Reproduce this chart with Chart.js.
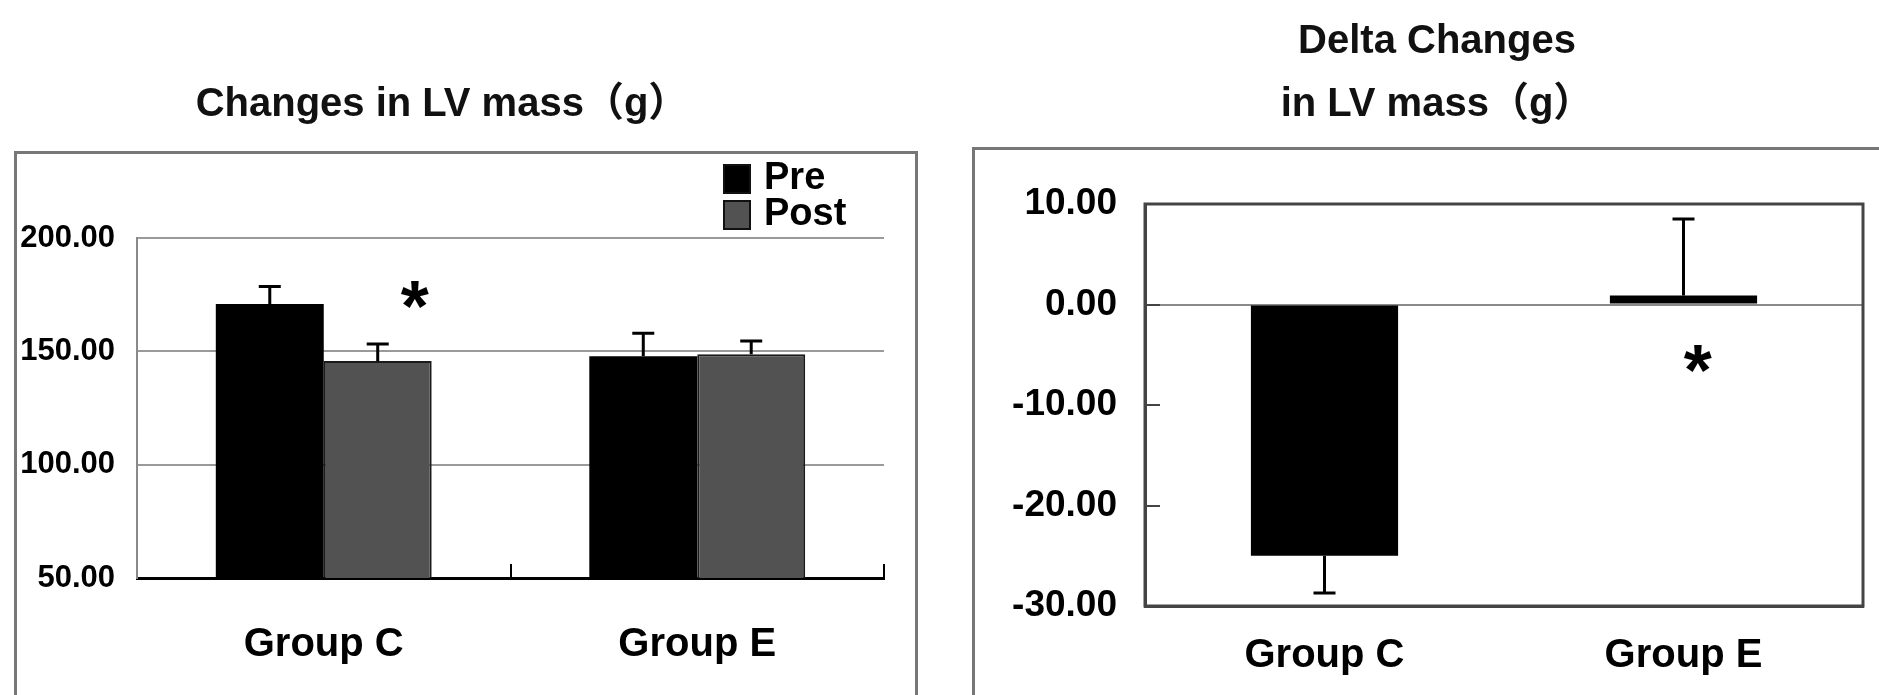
<!DOCTYPE html>
<html>
<head>
<meta charset="utf-8">
<script src="https://cdn.jsdelivr.net/npm/chart.js@4.4.1/dist/chart.umd.min.js"></script>
<style>
  html, body { margin: 0; padding: 0; background: #fff; }
  body { width: 1879px; height: 695px; position: relative; overflow: hidden; }
  .frame { position: absolute; border: 3px solid #777; box-sizing: border-box; }
  #frame-left  { left: 14px;  top: 151px; width: 904px; height: 620px; }
  #frame-right { left: 972px; top: 147px; width: 960px; height: 620px; }
  canvas { position: absolute; top: 0; }
  #massChart  { left: 0; }
  #deltaChart { left: 995px; }
</style>
</head>
<body>
<div class="frame" id="frame-left"></div>
<div class="frame" id="frame-right"></div>
<canvas id="massChart" width="886" height="695"></canvas>
<canvas id="deltaChart" width="884" height="695"></canvas>

<script>
// ----- Data -----

const groups = ["Group C", "Group E"];

const preMass    = [170.9, 147.8];
const preMassSD  = [7.7, 10.2];
const postMass   = [145.7, 148.7];
const postMassSD = [7.5, 5.9];

const deltaMass   = [-25.0, 0.9];
const deltaMassSD = [3.7, 7.6];

const massTicks  = [50, 100, 150, 200];
const deltaTicks = [-30, -20, -10, 0, 10];

// ----- Shared look -----

const FONT = "'Liberation Sans', 'Noto Sans CJK JP', sans-serif";
Chart.defaults.font.family = FONT;
Chart.defaults.color = "#000";

// ----- Plugins -----

//SD whiskers going away from the baseline
const errorBars = {
  id: "errorBars",
  afterDatasetsDraw(chart, args, opts) {
    const { ctx } = chart;
    const y = chart.scales.y;
    chart.data.datasets.forEach((ds, i) => {
      if (!ds.errors) return;
      chart.getDatasetMeta(i).data.forEach((bar, j) => {
        const v = ds.data[j];
        const dir = v < 0 ? -1 : 1;
        const yEnd = y.getPixelForValue(v + dir * ds.errors[j]);
        ctx.save();
        ctx.strokeStyle = "#000";
        ctx.lineWidth = opts.width;
        ctx.beginPath();
        ctx.moveTo(bar.x, bar.y);
        ctx.lineTo(bar.x, yEnd);
        ctx.moveTo(bar.x - opts.cap / 2, yEnd);
        ctx.lineTo(bar.x + opts.cap / 2, yEnd);
        ctx.stroke();
        ctx.restore();
      });
    });
  }
};

//significance marks placed in data coordinates
const marks = {
  id: "marks",
  afterDatasetsDraw(chart, args, opts) {
    const { ctx } = chart;
    (opts.items || []).forEach(m => {
      const px = chart.scales.x.getPixelForValue(m.x);
      const py = chart.scales.y.getPixelForValue(m.y);
      ctx.save();
      ctx.font = `bold ${opts.size}px ${FONT}`;
      ctx.textAlign = "center";
      ctx.textBaseline = "alphabetic";
      const mt = ctx.measureText(m.text);
      const mid = (mt.actualBoundingBoxAscent - mt.actualBoundingBoxDescent) / 2;
      ctx.fillStyle = "#000";
      ctx.fillText(m.text, px, py + mid);
      ctx.restore();
    });
  }
};

//stacked legend at the top right
const sideLegend = {
  id: "sideLegend",
  afterDraw(chart, args, opts) {
    if (!opts.show) return;
    const { ctx } = chart;
    chart.data.datasets.forEach((ds, i) => {
      const top = opts.y + i * opts.row;
      ctx.save();
      ctx.fillStyle = ds.backgroundColor;
      ctx.fillRect(opts.x, top, opts.w, opts.h);
      ctx.strokeStyle = "#111";
      ctx.lineWidth = 2;
      ctx.strokeRect(opts.x, top, opts.w, opts.h);
      ctx.fillStyle = "#000";
      ctx.font = `bold ${opts.size}px ${FONT}`;
      ctx.textBaseline = "middle";
      ctx.fillText(ds.label, opts.x + opts.w + 14, top + opts.h / 2);
      ctx.restore();
    });
  }
};

//closed box around the plot area
const plotBox = {
  id: "plotBox",
  beforeDatasetsDraw(chart, args, opts) {
    if (!opts.show) return;
    const { ctx, chartArea: a } = chart;
    ctx.save();
    ctx.strokeStyle = opts.color;
    ctx.lineWidth = opts.width;
    ctx.strokeRect(a.left, a.top, a.right - a.left, a.bottom - a.top);
    ctx.restore();
  }
};

const fixTicks = list => scale => { scale.ticks = list.map(v => ({ value: v })); };

// ----- Left chart: LV mass pre / post -----

new Chart(document.getElementById("massChart"), {
  type: "bar",
  data: {
    labels: groups,
    datasets: [
      { label: "Pre",  data: preMass,  errors: preMassSD,
        backgroundColor: "#000", borderWidth: 0 },
      { label: "Post", data: postMass, errors: postMassSD,
        backgroundColor: "#525252", borderColor: "#1a1a1a", borderWidth: 2 },
    ]
  },
  options: {
    responsive: false,
    animation: false,
    categoryPercentage: 0.578,
    barPercentage: 1,
    layout: { padding: { left: 0, right: 2, top: 0, bottom: 0 } },
    plugins: {
      legend: { display: false },
      tooltip: { enabled: false },
      title: {
        display: true,
        text: "Changes in LV mass（g）",
        color: "#111",
        font: { size: 40, weight: "bold", lineHeight: 1.2 },
        padding: { top: 81, bottom: 109 },
      },
      errorBars: { width: 3, cap: 22 },
      marks: { size: 72, items: [{ text: "*", x: 0.244, y: 175.2 }] },
      sideLegend: { show: true, x: 724, y: 165, w: 26, h: 28, row: 36, size: 38 },
      plotBox: { show: false },
    },
    scales: {
      x: {
        afterFit: s => { s.height = 117; },
        border: { color: "#000", width: 3 },
        grid: { offset: true, drawOnChartArea: false, drawTicks: true,
                tickLength: -14, color: "#000", lineWidth: 2 },
        ticks: { padding: 57, font: { size: 40, weight: "bold" }, maxRotation: 0 },
      },
      y: {
        min: Math.min(...massTicks),
        max: Math.max(...massTicks),
        afterBuildTicks: fixTicks(massTicks),
        afterFit: s => { s.width = 137; },
        border: { color: "#8a8a8a", width: 2 },
        grid: { color: "#9a9a9a", lineWidth: 2, drawTicks: false },
        ticks: { padding: 22, font: { size: 31, weight: "bold" },
                 callback: v => Number(v).toFixed(2) },
      }
    }
  },
  plugins: [errorBars, marks, sideLegend, plotBox]
});

// ----- Right chart: delta changes -----

new Chart(document.getElementById("deltaChart"), {
  type: "bar",
  data: {
    labels: groups,
    datasets: [
      { label: "Delta", data: deltaMass, errors: deltaMassSD,
        backgroundColor: "#000", borderWidth: 0 },
    ]
  },
  options: {
    responsive: false,
    animation: false,
    categoryPercentage: 0.41,
    barPercentage: 1,
    layout: { padding: { left: 16, right: 16, top: 0, bottom: 0 } },
    plugins: {
      legend: { display: false },
      tooltip: { enabled: false },
      title: {
        display: true,
        text: ["Delta Changes", "in LV mass（g）"],
        color: "#111",
        font: { size: 40, weight: "bold", lineHeight: 1.58 },
        padding: { top: 10, bottom: 67.6 },
      },
      errorBars: { width: 3, cap: 22 },
      marks: { size: 72, items: [{ text: "*", x: 1.04, y: -5.4 }] },
      sideLegend: { show: false },
      plotBox: { show: true, color: "#444", width: 3 },
    },
    scales: {
      x: {
        afterFit: s => { s.height = 89; },
        border: { color: "#444", width: 3 },
        grid: { display: false },
        ticks: { padding: 17.5, font: { size: 40, weight: "bold" }, maxRotation: 0 },
      },
      y: {
        min: Math.min(...deltaTicks),
        max: Math.max(...deltaTicks),
        afterBuildTicks: fixTicks(deltaTicks),
        afterFit: s => { s.width = 134; },
        border: { color: "#444", width: 3 },
        grid: {
          color: c => (c.tick && c.tick.value === 0 ? "#8a8a8a" : "rgba(0,0,0,0)"),
          lineWidth: 2,
          drawTicks: true,
          tickLength: -15,
          tickColor: "#444",
          tickWidth: 2,
        },
        ticks: { padding: 43, font: { size: 37, weight: "bold" },
                 callback: v => Number(v).toFixed(2) },
      }
    }
  },
  plugins: [errorBars, marks, sideLegend, plotBox]
});
</script>
</body>
</html>
